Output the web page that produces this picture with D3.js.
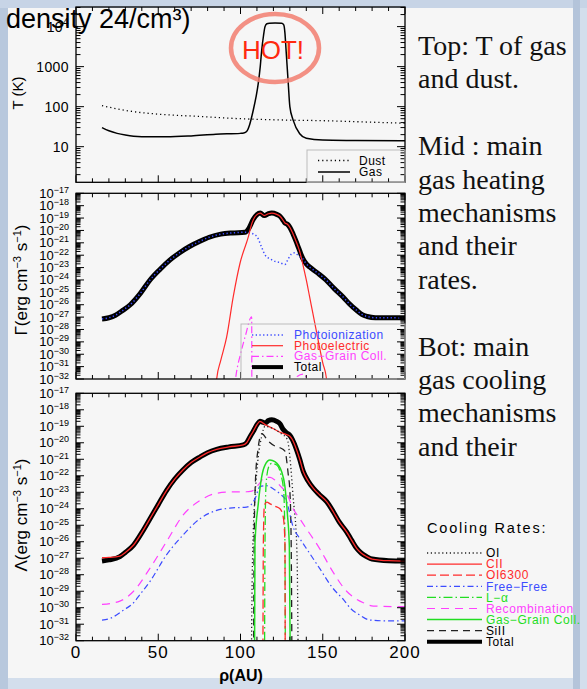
<!DOCTYPE html>
<html><head><meta charset="utf-8">
<script src="https://cdn.jsdelivr.net/npm/d3@7"></script>
<style>body{margin:0;background:#cfdbea;} svg{display:block}</style>
</head><body><svg id="c" width="587" height="689"></svg>
<script>
// ---------------- DATA ----------------
const rhoTicks = [0, 50, 100, 150, 200];
const tTickValues = [10, 100, 1000, 10000];
const rateTickExps = [-17,-18,-19,-20,-21,-22,-23,-24,-25,-26,-27,-28,-29,-30,-31,-32];

// Top panel: temperature (K) vs rho (AU)
const dustT = [[15.8,106],[25,88],[35,75],[50,65],[75,57],[100,50],[125,46.5],[150,44.6],[175,41.5],[200,38.5]];
const gasT = [[15.8,30],[20,25],[25,21.5],[30,19.5],[35,18.3],[45,17.6],[55,17.6],[70,18.6],[85,20.5],[100,21.5],[102,22],[103.7,24],[105.5,35],[107.8,83],[109.5,180],[110.8,383],[112,1000],[112.9,2600],[114,6000],[114.9,10000],[116,11800],[117.5,12200],[121,12300],[125,12200],[126.3,11000],[127,7000],[127.7,2600],[129,400],[130,100],[132,46],[136,21],[140,16.2],[150,14.6],[170,14.3],[200,14]];

// Middle panel: heating rates, log10(erg cm^-3 s^-1)
const heatTotal = [[15.8,-27.15],[20,-27.05],[24,-26.85],[28,-26.5],[33,-26.0],[39,-25.1],[45,-24.0],[51,-23.15],[57,-22.4],[63,-21.8],[69,-21.3],[75,-20.9],[81,-20.55],[88,-20.3],[95,-20.2],[102.7,-20.15],[105,-19.85],[107.8,-19.1],[110,-18.72],[112,-18.6],[114.5,-18.8],[117,-18.65],[119,-18.6],[122,-18.7],[124,-18.85],[126,-19.2],[127,-19.4],[128.5,-19.5],[130,-19.75],[132,-20.3],[134,-20.95],[135,-21.3],[136,-21.65],[137,-22.0],[138,-22.3],[140,-22.7],[142,-22.95],[147,-23.45],[152,-24.0],[157,-24.7],[162.5,-25.4],[166,-25.9],[170.6,-26.45],[174,-26.8],[177,-26.95],[182,-27.05],[190,-27.05],[200,-27.05]];
const heatPhotoion = [[15.8,-27.15],[20,-27.05],[24,-26.85],[28,-26.5],[33,-26.0],[39,-25.1],[45,-24.0],[51,-23.15],[57,-22.4],[63,-21.8],[69,-21.3],[75,-20.9],[81,-20.55],[88,-20.3],[95,-20.2],[102.7,-20.15],[106,-20.2],[108,-20.3],[110,-20.5],[113,-21.4],[115,-22.0],[118,-22.3],[121,-22.5],[124,-22.6],[127,-22.75],[129,-22.3],[131,-21.9],[133,-21.8],[135,-22.0],[137,-22.2],[138,-22.3],[140,-22.7],[142,-22.95],[147,-23.45],[152,-24.0],[157,-24.7],[162.5,-25.4],[166,-25.9],[170.6,-26.45],[174,-26.8],[177,-26.95],[182,-27.05],[190,-27.05],[200,-27.05]];
const heatPhotoel = [[85,-33],[85.5,-32],[88,-30.5],[91.6,-28.6],[95.6,-25.35],[99.7,-22.65],[104.8,-20.5],[107,-19.4],[108.5,-18.95],[110,-18.72],[112,-18.6],[114.5,-18.8],[117,-18.65],[119,-18.6],[122,-18.7],[124,-18.85],[126,-19.2],[127,-19.4],[128.5,-19.5],[130,-19.75],[132,-20.3],[134,-20.95],[135,-21.3],[136,-21.7],[138,-22.8],[140,-24.0],[142,-25.35],[144,-26.7],[146,-28.05],[148,-29.4],[150,-30.7],[152.3,-32],[153,-33]];
const heatGasGrain1 = [[96,-33],[97.5,-31.5],[100,-30.0],[103,-28.5],[106.8,-26.97],[106.9,-33]];
const heatGasGrain2 = [[133,-33],[134.5,-31.8],[138,-31.6],[141,-32.2],[142.5,-33]];

// Bottom panel: cooling rates, log10(erg cm^-3 s^-1)
const coolTotal = [[15.8,-27.17],[20,-27.1],[26.7,-26.9],[30,-26.65],[35,-26.2],[40,-25.45],[45,-24.6],[50,-23.75],[55,-22.9],[60,-22.2],[65,-21.65],[70,-21.2],[75.5,-20.85],[80,-20.6],[85.5,-20.4],[93,-20.25],[101.7,-20.13],[103.7,-20.0],[106,-19.6],[107.8,-19.3],[110,-18.9],[111.8,-18.7],[113.5,-18.75],[115,-18.8],[117,-18.65],[119,-18.6],[122,-18.7],[124,-18.85],[126,-19.2],[128,-19.4],[130,-19.55],[131.5,-19.8],[134,-20.4],[136,-21.0],[138.2,-21.75],[141,-22.3],[144.3,-22.76],[148,-23.15],[152.4,-23.57],[156.4,-24.18],[160,-24.8],[164.5,-25.4],[167.5,-25.9],[170.6,-26.4],[173.5,-26.7],[176.7,-26.9],[180,-27.05],[190,-27.15],[200,-27.17]];
const coolCII = [[15.8,-26.97],[20,-26.95],[26.7,-26.87],[30,-26.65],[35,-26.2],[40,-25.45],[45,-24.6],[50,-23.75],[55,-22.9],[60,-22.2],[65,-21.65],[70,-21.2],[75.5,-20.85],[80,-20.6],[85.5,-20.4],[93,-20.25],[101.7,-20.13],[103.7,-20.0],[106,-19.6],[107.8,-19.3],[110,-18.9],[111.8,-18.7],[115,-18.9],[120,-19.15],[125,-19.4],[128,-19.5],[130,-19.6],[131.5,-19.8],[134,-20.4],[136,-21.0],[138.2,-21.75],[141,-22.3],[144.3,-22.76],[148,-23.15],[152.4,-23.57],[156.4,-24.18],[160,-24.8],[164.5,-25.4],[167.5,-25.9],[170.6,-26.4],[173.5,-26.7],[176.7,-26.9],[180,-27.05],[190,-27.15],[200,-27.17]];
const coolOI = [[106.6,-34],[106.9,-30],[107.8,-25.3],[108.8,-23.3],[110.8,-20.85],[112.9,-19.6],[114.9,-19.0],[119,-19.1],[124,-19.4],[128.5,-19.8],[130,-20.85],[132,-23.3],[134.2,-26.3],[134.8,-30],[135.1,-34]];
const coolOI6300 = [[113.6,-34],[113.9,-26],[114.5,-23.8],[116,-23.6],[118,-23.7],[121,-23.85],[124,-24.0],[126,-24.5],[127,-26],[127.2,-34]];
const coolFreeFree = [[15.8,-30.75],[20.7,-30.65],[28.8,-30.15],[35,-29.7],[38.9,-29.2],[45,-28.4],[55,-26.8],[65,-25.6],[75.4,-24.6],[85.5,-24.1],[95,-23.95],[103.7,-23.9],[106,-23.8],[108.8,-23.4],[111.8,-22.66],[115.9,-22.6],[120,-22.8],[124,-23.1],[128,-23.57],[132,-25.1],[136,-25.8],[140,-26.4],[148,-27.6],[156,-28.8],[162.5,-29.5],[167,-30.05],[172.6,-30.45],[178.7,-30.75],[190,-30.8],[200,-30.8]];
const coolLya = [[114.6,-34],[114.9,-26],[115.5,-22.6],[117,-21.5],[119,-21.25],[122,-21.35],[124.5,-21.9],[126.3,-23],[127,-26],[127.3,-34]];
const coolRecomb = [[15.8,-29.8],[26.7,-29.6],[35,-29.0],[45,-27.6],[55,-26.0],[65,-24.4],[75.4,-23.5],[85.5,-23.06],[95,-22.98],[103.7,-22.97],[106,-22.95],[108.8,-22.8],[112,-22.4],[114.9,-22.1],[118,-22.1],[120.9,-22.26],[124,-22.6],[128,-23.06],[132,-24.0],[136,-24.6],[140,-25.2],[148,-26.4],[156,-27.8],[164.5,-29.0],[170,-29.45],[174.7,-29.7],[180.8,-29.9],[200,-29.94]];
const coolGasGrain = [[108.5,-34],[108.8,-26.1],[110.8,-23.7],[112.9,-22.05],[114.9,-21.35],[117.9,-21.05],[120.9,-21.15],[125,-21.75],[127,-22.65],[128.5,-24.3],[129.7,-26.3],[130.3,-34]];
const coolSiII = [[107.9,-34],[108.3,-26],[109,-22.5],[110.5,-20.5],[112.9,-19.45],[116.9,-19.9],[121,-20.2],[124,-20.3],[127,-20.5],[129,-21.9],[130,-22.9],[130.8,-26],[131.3,-34]];

const heatLegend = ["Photoionization","Photoelectric","Gas\u2212Grain Coll.","Total"];
const coolLegend = ["OI","CII","OI6300","Free\u2212Free","L\u2212\u03b1","Recombination","Gas\u2212Grain Coll.","SiII","Total"];
const textLines = ["Top: T of gas","and dust.","","Mid : main","gas heating","mechanisms","and their","rates.","","Bot: main","gas cooling","mechanisms","and their"];

// ---------------- STYLES ----------------
const C = {red:"#ff2b2b", blue:"#3c4cff", green:"#22dd22", mag:"#ff40ff", black:"#000"};
const ST = {
  dust:{stroke:"#000",w:1.3,dash:"1.2,3"},
  gas:{stroke:"#000",w:1.5,dash:null},
  total:{stroke:"#000",w:5,dash:null},
  photoion:{stroke:C.blue,w:1.5,dash:"1.3,2.4"},
  photoel:{stroke:C.red,w:1.2,dash:null},
  ggHeat:{stroke:C.mag,w:1.2,dash:"7,3,1.5,3"},
  OI:{stroke:"#222",w:1.3,dash:"1.2,2.6"},
  CII:{stroke:C.red,w:1.3,dash:null},
  OI6300:{stroke:C.red,w:1.3,dash:"9,4"},
  FF:{stroke:C.blue,w:1.2,dash:"6,3,1.5,3"},
  Lya:{stroke:C.green,w:1.3,dash:"9,3,1.5,3"},
  Rec:{stroke:C.mag,w:1.2,dash:"8,6"},
  GG:{stroke:C.green,w:1.5,dash:null},
  SiII:{stroke:"#222",w:1.3,dash:"7,5"}
};

// ---------------- DRAW ----------------
const svg = d3.select("#c");
svg.append("rect").attr("width",587).attr("height",689).attr("fill","#d3deec");
svg.append("rect").attr("x",0).attr("y",0).attr("width",8).attr("height",689).attr("fill","#b8c8dd");
svg.append("rect").attr("x",0).attr("y",0).attr("width",587).attr("height",8).attr("fill","#c7d4e6");
svg.append("rect").attr("x",8).attr("y",8).attr("width",565).attr("height",670).attr("fill","#f6f6f6");
svg.append("rect").attr("x",573).attr("y",0).attr("width",7).attr("height",689).attr("fill","#b4c4da");

const X0 = 76, X1 = 405;
const x = d3.scaleLinear().domain([0,200]).range([X0,X1]);
const SANS = "'Liberation Sans', Arial, sans-serif";

const panels = [
  {id:"top", y0:7, y1:182.3, dom:[Math.pow(10,0.11), Math.pow(10,4.49)]},
  {id:"mid", y0:193.3, y1:379, dom:[1e-32,1e-17]},
  {id:"bot", y0:393.3, y1:640.7, dom:[1e-32,1e-17]}
];
panels.forEach(p => {
  p.y = d3.scaleLog().domain(p.dom).range([p.y1,p.y0]);
  svg.append("clipPath").attr("id","clip-"+p.id).append("rect")
    .attr("x",X0).attr("y",p.y0).attr("width",X1-X0).attr("height",p.y1-p.y0);
  p.g = svg.append("g");
  p.lines = p.g.append("g").attr("clip-path","url(#clip-"+p.id+")");
});
const [PT, PM, PB] = panels;

function logTickList(dom){
  const out=[]; const lo=Math.log10(dom[0]), hi=Math.log10(dom[1]);
  for(let e=Math.floor(lo); e<=Math.ceil(hi); e++){
    for(let m=1;m<=9;m++){
      const lv = e + Math.log10(m);
      if(lv>=lo-1e-6 && lv<=hi+1e-6) out.push({v:Math.pow(10,lv), major:m===1});
    }
  }
  return out;
}

function drawAxes(p){
  const g = p.g.append("g");
  logTickList(p.dom).forEach(t=>{
    const yy = p.y(t.v), L = t.major?8:4.5;
    g.append("line").attr("x1",X0).attr("x2",X0+L).attr("y1",yy).attr("y2",yy).attr("stroke","#000").attr("stroke-width",1);
    g.append("line").attr("x1",X1).attr("x2",X1-L).attr("y1",yy).attr("y2",yy).attr("stroke","#000").attr("stroke-width",1);
  });
  d3.range(0,201,10).forEach(v=>{
    const xx = x(v), L = (v%50===0)?7:4;
    g.append("line").attr("x1",xx).attr("x2",xx).attr("y1",p.y1).attr("y2",p.y1-L).attr("stroke","#000").attr("stroke-width",1);
    g.append("line").attr("x1",xx).attr("x2",xx).attr("y1",p.y0).attr("y2",p.y0+L).attr("stroke","#000").attr("stroke-width",1);
  });
  g.append("rect").attr("x",X0).attr("y",p.y0).attr("width",X1-X0).attr("height",p.y1-p.y0)
    .attr("fill","none").attr("stroke","#000").attr("stroke-width",1.3);
}

function drawSeries(p, data, st, isExp){
  const line = d3.line()
    .x(d=>x(d[0]))
    .y(d=>p.y(isExp ? Math.pow(10,d[1]) : d[1]))
    .curve(d3.curveMonotoneX);
  p.lines.append("path").attr("d",line(data)).attr("fill","none")
    .attr("stroke",st.stroke).attr("stroke-width",st.w)
    .attr("stroke-dasharray",st.dash).attr("stroke-linejoin","round");
}

// --- Top panel
drawSeries(PT, dustT, ST.dust, false);
drawSeries(PT, gasT, ST.gas, false);
drawAxes(PT);
tTickValues.forEach(v=>{
  const t = PT.g.append("text").attr("x",69).attr("y",PT.y(v)+5).attr("text-anchor","end")
    .attr("font-family",SANS).attr("font-size",14).attr("letter-spacing",0.4);
  if(v===10000){ t.append("tspan").text("10"); t.append("tspan").attr("dy",-6).attr("font-size",10).text("4"); }
  else t.text(String(v));
});

// --- Middle panel
drawSeries(PM, heatTotal, ST.total, true);
drawSeries(PM, heatPhotoion, ST.photoion, true);
drawSeries(PM, heatPhotoel, ST.photoel, true);
drawSeries(PM, heatGasGrain1, ST.ggHeat, true);
drawSeries(PM, heatGasGrain2, ST.ggHeat, true);
drawAxes(PM);

// --- Bottom panel
drawSeries(PB, coolTotal, ST.total, true);
drawSeries(PB, coolCII, ST.CII, true);
drawSeries(PB, coolOI, ST.OI, true);
drawSeries(PB, coolSiII, ST.SiII, true);
drawSeries(PB, coolRecomb, ST.Rec, true);
drawSeries(PB, coolFreeFree, ST.FF, true);
drawSeries(PB, coolGasGrain, ST.GG, true);
drawSeries(PB, coolLya, ST.Lya, true);
drawSeries(PB, coolOI6300, ST.OI6300, true);
drawAxes(PB);

// rate tick labels
[PM, PB].forEach(p=>{
  rateTickExps.forEach(e=>{
    const t = p.g.append("text").attr("x",69).attr("y",p.y(Math.pow(10,e))+4.5).attr("text-anchor","end")
      .attr("font-family",SANS).attr("font-size",13);
    t.append("tspan").text("10");
    t.append("tspan").attr("dy",-5).attr("font-size",9).text("\u2212"+Math.abs(e));
  });
});

// x tick labels (bottom panel)
rhoTicks.forEach(v=>{
  PB.g.append("text").attr("x",x(v)).attr("y",658).attr("text-anchor","middle")
    .attr("font-family",SANS).attr("font-size",17).attr("letter-spacing",1).text(v);
});
svg.append("text").attr("x",241).attr("y",681).attr("text-anchor","middle")
  .attr("font-family",SANS).attr("font-size",16).attr("font-weight","bold").text("\u03c1(AU)");

// y axis titles
function yTitle(cx, cy, parts, fs){
  const t = svg.append("text").attr("transform",`translate(${cx},${cy}) rotate(-90)`)
    .attr("text-anchor","middle").attr("font-family",SANS).attr("font-size",fs).attr("dy","0.35em");
  parts.forEach(pt=>{
    const s = t.append("tspan").text(pt.t);
    if(pt.sup){ s.attr("dy",-6).attr("font-size",fs*0.65); }
    if(pt.down){ s.attr("dy",6); }
  });
}
yTitle(18, 93, [{t:"T (K)"}], 15);
yTitle(21, 280, [{t:"\u0393(erg cm"},{t:"\u22123",sup:true},{t:" s",down:true},{t:"\u22121",sup:true},{t:")",down:true}], 17);
yTitle(21, 515, [{t:"\u039b(erg cm"},{t:"\u22123",sup:true},{t:" s",down:true},{t:"\u22121",sup:true},{t:")",down:true}], 17);

// --- Top legend
const tl = svg.append("g");
tl.append("rect").attr("x",307).attr("y",150).attr("width",98).attr("height",32.3).attr("fill","none").attr("stroke","#bbb").attr("stroke-width",1);
[["Dust",ST.dust,160.5],["Gas",ST.gas,172]].forEach(([lab,st,yy])=>{
  tl.append("line").attr("x1",318).attr("x2",350).attr("y1",yy).attr("y2",yy).attr("stroke",st.stroke).attr("stroke-width",st.w).attr("stroke-dasharray",st.dash);
  tl.append("text").attr("x",359).attr("y",yy+4).attr("font-family",SANS).attr("font-size",12).attr("letter-spacing",0.5).text(lab);
});

// --- Middle legend
const hl = svg.append("g");
hl.append("rect").attr("x",241).attr("y",324).attr("width",164).attr("height",55).attr("fill","none").attr("stroke","#bbb").attr("stroke-width",1);
const hlStyles = [ST.photoion, ST.photoel, ST.ggHeat, ST.total];
const hlCols = [C.blue, C.red, C.mag, "#000"];
heatLegend.forEach((lab,i)=>{
  const yy = 335 + i*10.7;
  const st = hlStyles[i];
  hl.append("line").attr("x1",252).attr("x2",283).attr("y1",yy).attr("y2",yy).attr("stroke",st.stroke).attr("stroke-width",i===3?4:st.w).attr("stroke-dasharray",st.dash);
  hl.append("text").attr("x",294).attr("y",yy+4).attr("font-family",SANS).attr("font-size",12).attr("letter-spacing",0.5).attr("fill",hlCols[i]).text(lab);
});

// --- Cooling legend
const cl = svg.append("g");
cl.append("text").attr("x",427).attr("y",533).attr("font-family",SANS).attr("font-size",14.5).attr("letter-spacing",1.8).text("Cooling Rates:");
const clStyles = [ST.OI, ST.CII, ST.OI6300, ST.FF, ST.Lya, ST.Rec, ST.GG, ST.SiII, ST.total];
const clCols = ["#000", C.red, C.red, C.blue, C.green, C.mag, C.green, "#000", "#000"];
coolLegend.forEach((lab,i)=>{
  const yy = 553 + i*11.1;
  const st = clStyles[i];
  cl.append("line").attr("x1",427).attr("x2",482).attr("y1",yy).attr("y2",yy).attr("stroke",st.stroke).attr("stroke-width",i===8?4:st.w).attr("stroke-dasharray",st.dash);
  cl.append("text").attr("x",486).attr("y",yy+4.2).attr("font-family",SANS).attr("font-size",12).attr("letter-spacing",0.6).attr("fill",clCols[i]).text(lab);
});

// --- Overlay texts
svg.append("text").attr("x",6).attr("y",28).attr("font-family",SANS).attr("font-size",27).attr("fill","#000").text("density 24/cm\u00b3)");
svg.append("ellipse").attr("cx",275).attr("cy",48).attr("rx",44).attr("ry",34).attr("fill","none").attr("stroke","#f27e70").attr("stroke-width",4.5).attr("opacity",0.85);
svg.append("text").attr("x",273).attr("y",59).attr("text-anchor","middle").attr("font-family",SANS).attr("font-size",26).attr("fill","#ff2a10").text("HOT!");

// --- Right description text
textLines.forEach((s,i)=>{
  if(!s) return;
  svg.append("text").attr("x",418).attr("y",55 + i*33.4).attr("font-family","'Liberation Serif', 'DejaVu Serif', serif")
    .attr("font-size",28).attr("fill","#111").text(s);
});
</script>
</body></html>
